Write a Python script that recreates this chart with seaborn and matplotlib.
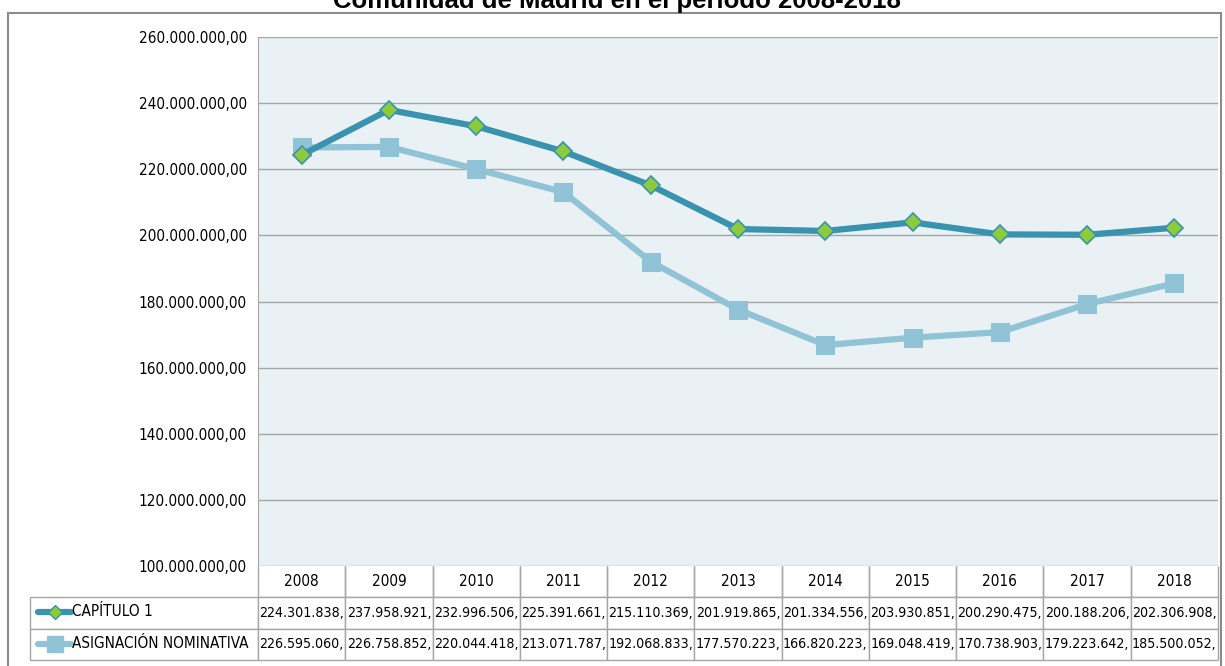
import matplotlib
matplotlib.use("Agg")
import matplotlib.pyplot as plt
import seaborn as sns
import pandas as pd
from matplotlib.ticker import FuncFormatter, MultipleLocator
from matplotlib.lines import Line2D
from matplotlib.patches import Rectangle

years = ["2008", "2009", "2010", "2011", "2012", "2013", "2014", "2015", "2016", "2017", "2018"]
capitulo1 = [224301838, 237958921, 232996506, 225391661, 215110369, 201919865,
             201334556, 203930851, 200290475, 200188206, 202306908]
asignacion = [226595060, 226758852, 220044418, 213071787, 192068833, 177570223,
              166820223, 169048419, 170738903, 179223642, 185500052]
series_names = ["CAPÍTULO 1", "ASIGNACIÓN NOMINATIVA"]

dark = "#3A93AE"
light = "#91C3D6"
green = "#8CCB3C"
grid_c = "#A6A6A6"

sns.set_style("white")
plt.rcParams['font.family'] = ['DejaVu Sans']
plt.rcParams['font.stretch'] = 'condensed'
plt.rcParams['text.color'] = '#000000'

W, H = 1225, 666
fig = plt.figure(figsize=(W / 100, H / 100), dpi=100)

left, right, top, bottom = 258, 1218, 37, 566
ax = fig.add_axes([left / W, 1 - bottom / H, (right - left) / W, (bottom - top) / H])
ax.set_facecolor("#E9F1F5")

df = pd.DataFrame({"year": years, "cap": capitulo1, "asig": asignacion})
df["pos"] = range(len(years))

sns.lineplot(data=df, x="pos", y="asig", ax=ax, color=light, lw=4.5, marker="s",
             markersize=13, markerfacecolor=light, markeredgecolor=light, zorder=3)
sns.lineplot(data=df, x="pos", y="cap", ax=ax, color=dark, lw=4.5, marker="D",
             markersize=9, markerfacecolor=green, markeredgecolor=dark,
             markeredgewidth=1.2, zorder=4)

ax.set_xlim(-0.5, len(years) - 0.5)
ax.set_ylim(100_000_000, 260_000_000)
ax.yaxis.set_major_locator(MultipleLocator(20_000_000))
ax.yaxis.set_major_formatter(FuncFormatter(lambda v, p: f"{int(v):,}".replace(",", ".") + ",00"))
ax.set_xticks([])
ax.set_xlabel("")
ax.set_ylabel("")
ax.grid(axis="y", color=grid_c, lw=1)
ax.tick_params(axis="y", labelsize=11, labelcolor="black", length=0, pad=8)
for s in ["top", "right", "bottom"]:
    ax.spines[s].set_visible(False)
ax.spines["left"].set_color(grid_c)

# data table under the plot
lab_x0 = 30
lab_w = left - lab_x0
col_w = (right - left) / len(years)
row_h = [31, 31, 32]
fmt = lambda v: f"{v:,}".replace(",", ".") + ","
cell_text = [[""] + years,
             [""] + [fmt(v) for v in capitulo1],
             [""] + [fmt(v) for v in asignacion]]
tb_h = sum(row_h)
tab = ax.table(cellText=cell_text, cellLoc="center",
               colWidths=[lab_w] + [col_w] * len(years),
               bbox=[-lab_w / (right - left), -tb_h / (bottom - top),
                     (right - left + lab_w) / (right - left), tb_h / (bottom - top)])
tab.auto_set_font_size(False)
for (r, c), cell in tab.get_celld().items():
    cell.set_edgecolor(grid_c)
    cell.set_linewidth(1)
    cell.set_facecolor("white")
    cell.get_text().set_fontsize(11 if r == 0 else 10.2)
    if r == 0 and c == 0:
        cell.visible_edges = ""
    if r == 0 and c > 0:
        cell.visible_edges = "BLR"

# legend keys inside the row label cells
y_rows = [1 - (bottom + 31 + 15) / H, 1 - (bottom + 62 + 16) / H]
keys = [dict(color=dark, marker="D", mfc=green, mec=dark, ms=7),
        dict(color=light, marker="s", mfc=light, mec=light, ms=11)]
for yr, name, k in zip(y_rows, series_names, keys):
    fig.add_artist(Line2D([38 / W, 71 / W], [yr, yr], lw=4.5, color=k["color"]))
    fig.add_artist(Line2D([54.5 / W], [yr], marker=k["marker"], ms=k["ms"],
                          mfc=k["mfc"], mec=k["mec"], lw=0))
    fig.text(72 / W, yr, name, fontsize=11, va="center", ha="left")

# outer chart border and cut-off title
fig.add_artist(Rectangle((8 / W, -0.01), (1221 - 8) / W, 1 - 13 / H + 0.01,
                         fill=False, edgecolor="#8C8C8C", lw=1.5))
fig.text(617 / W, 1 - 8 / H, "Comunidad de Madrid en el período 2008-2018",
         fontsize=18.5, fontweight="bold", ha="center", va="baseline",
         family=["Liberation Sans", "DejaVu Sans"], stretch="normal")

fig.savefig("out.png", dpi=100)
